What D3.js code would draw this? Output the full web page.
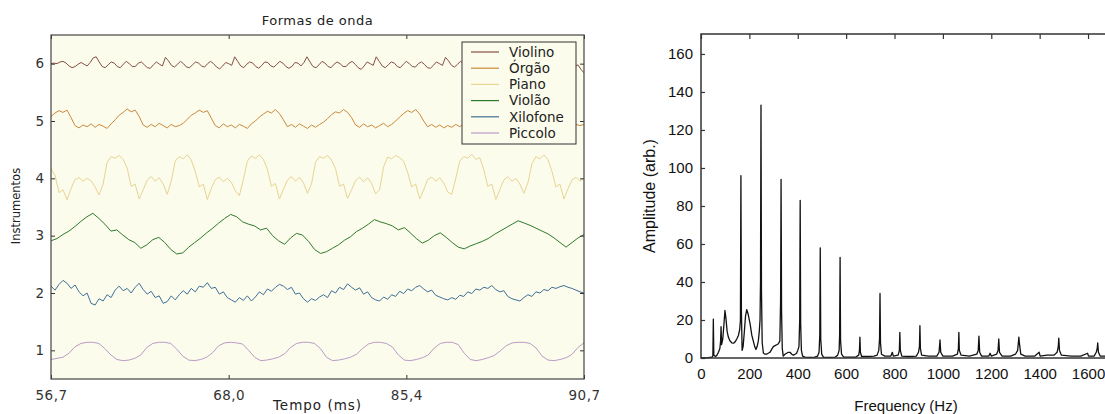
<!DOCTYPE html>
<html><head><meta charset="utf-8">
<script src="https://cdn.jsdelivr.net/npm/d3@7"></script>
<style>body{margin:0;background:#fff}svg{display:block}</style>
</head><body><svg id="c" width="1105" height="414"></svg>
<script>
// ---------- DATA ----------
const instruments = ["Violino","Órgão","Piano","Violão","Xilofone","Piccolo"];
const instrumentColors = ["#855044","#c9893d","#e8d393","#2f7a2c","#3f6f97","#b99bc6"];
const timeTicks = [56.7, 68.0, 85.4, 90.7];
const timeTickLabels = ["56,7","68,0","85,4","90,7"];
const instrumentTicks = [1,2,3,4,5,6];

const violino = [6.00,6.01,6.00,6.03,6.04,6.01,5.96,5.93,5.95,5.99,6.02,5.99,5.96,6.02,6.10,6.12,
6.03,5.95,5.93,5.98,6.03,6.01,5.95,5.93,5.99,6.04,6.00,5.95,5.95,6.01,6.03,5.98,5.93,5.92,5.98,6.03,5.99,5.96,6.11,
6.05,5.97,5.94,5.99,6.04,6.00,5.94,5.93,5.98,6.03,6.01,5.96,5.94,6.00,6.04,6.00,5.94,5.91,5.96,6.02,6.00,5.97,6.12,
6.04,5.96,5.93,5.99,6.03,6.01,5.95,5.92,5.97,6.03,6.02,5.96,5.94,5.99,6.04,6.01,5.95,5.92,5.95,6.02,6.01,5.96,6.02,6.12,
6.03,5.95,5.93,5.98,6.04,6.01,5.95,5.93,5.99,6.03,6.00,5.95,5.95,6.01,6.04,5.99,5.93,5.90,5.96,6.03,6.00,5.97,6.12,
6.04,5.96,5.93,5.98,6.03,6.01,5.95,5.93,5.99,6.04,6.00,5.95,5.94,6.00,6.03,5.99,5.93,5.92,5.97,6.03,6.00,5.97,6.11,
6.05,5.97,5.94,5.99,6.04,6.00,5.94,5.93,5.98,6.03,6.01,5.96,5.94,6.00,6.04,6.00,5.94,5.91,5.96,6.02,6.00,5.97,6.03,6.12,
6.04,5.96,5.93,5.99,6.03,6.01,5.95,5.92,5.97,6.03,6.02,5.96,5.94,5.99,6.04,6.01,5.95,5.92,5.95,5.98,5.90,5.84];

const orgao = [5.08,5.14,5.18,5.15,5.19,5.06,4.92,4.88,4.93,4.90,4.95,4.89,4.94,4.91,4.87,4.95,5.02,5.10,5.15,5.21,
5.16,5.19,5.08,4.93,4.89,4.94,4.90,4.96,4.92,4.88,4.94,4.90,4.92,4.96,5.03,5.10,5.14,5.19,5.15,5.18,
5.05,4.92,4.88,4.95,4.90,4.93,4.88,4.94,4.91,4.87,4.95,5.00,5.07,5.12,5.17,5.14,5.20,5.13,5.02,4.90,
4.94,4.89,4.95,4.91,4.87,4.93,4.89,4.94,4.98,5.04,5.11,5.16,5.14,5.20,5.15,5.06,4.93,4.89,4.95,4.90,
4.93,4.88,4.92,4.96,4.90,4.94,5.00,5.07,5.13,5.18,5.15,5.20,5.12,5.00,4.90,4.94,4.89,4.93,4.88,4.92,
4.89,4.94,4.90,4.95,5.02,5.09,5.15,5.19,5.14,5.18,5.06,4.92,4.88,4.94,4.90,4.93,4.88,4.93,4.90,4.95,
4.91,4.96,5.03,5.10,5.16,5.20,5.15,5.18,5.05,4.93,4.89,4.94,4.92,4.94];

const piano = [4.17,4.05,3.75,3.80,3.63,3.82,3.98,4.01,3.95,4.00,3.96,3.85,3.71,3.90,4.28,4.38,4.35,4.40,4.33,4.18,
3.86,3.90,3.64,3.80,3.97,4.03,3.95,4.01,3.90,3.72,3.95,4.30,4.38,4.34,4.41,4.32,4.12,3.85,3.90,3.63,
3.82,3.98,4.02,3.94,4.00,3.93,3.78,3.70,3.98,4.30,4.39,4.35,4.41,4.33,4.16,3.86,3.91,3.64,3.81,3.97,
4.03,3.95,4.02,3.92,3.74,3.90,4.28,4.38,4.35,4.40,4.32,4.17,3.86,3.90,3.65,3.80,3.96,4.02,3.94,4.01,
3.91,3.73,3.80,4.20,4.37,4.34,4.40,4.36,4.30,4.10,3.85,3.90,3.64,3.80,3.98,4.02,3.95,4.01,3.92,3.76,
3.72,4.00,4.30,4.38,4.35,4.42,4.33,4.36,4.15,3.86,3.90,3.63,3.80,3.97,4.03,3.95,4.00,3.90,3.74,3.92,
4.25,4.38,4.34,4.41,4.33,4.12,3.85,3.90,3.64,3.82,3.97,4.02,3.95,4.00];

const violao = [2.91,2.95,3.02,3.08,3.16,3.25,3.33,3.39,3.30,3.20,3.08,3.10,3.01,2.93,2.88,2.78,2.84,2.93,2.97,2.88,
2.76,2.68,2.70,2.80,2.88,2.96,3.05,3.13,3.22,3.30,3.37,3.33,3.24,3.20,3.17,3.10,3.13,3.00,2.91,2.85,
2.96,3.04,3.01,2.90,2.76,2.69,2.72,2.78,2.84,2.92,2.98,3.07,3.13,3.20,3.28,3.24,3.21,3.17,3.10,3.14,
3.05,2.95,2.87,2.92,3.00,3.05,2.97,2.88,2.80,2.77,2.82,2.86,2.90,2.95,3.02,3.08,3.14,3.20,3.26,3.22,
3.18,3.13,3.08,3.03,2.96,2.88,2.80,2.88,2.96,3.02];

const xilofone = [2.12,2.05,2.15,2.22,2.17,2.08,2.14,2.02,1.95,2.00,1.82,1.79,1.90,1.86,1.97,1.92,2.05,2.12,2.04,2.08,
2.00,2.10,2.17,2.06,1.98,2.03,1.92,1.95,1.82,1.85,1.95,1.88,1.97,2.04,1.98,2.08,2.02,2.12,2.10,2.18,
2.08,2.10,1.98,2.02,1.92,1.88,1.84,1.92,1.87,1.95,1.86,1.93,2.02,1.97,2.07,2.03,2.10,2.15,2.12,2.06,
2.10,1.98,2.00,1.90,1.84,1.90,1.87,1.93,1.97,1.92,2.04,2.00,2.10,2.06,2.16,2.10,2.05,2.09,1.98,2.02,
1.92,1.88,1.86,1.93,1.89,1.97,1.94,2.03,1.99,2.07,2.04,2.10,2.13,2.07,2.02,2.05,1.96,1.93,1.90,1.88,
1.92,1.89,1.96,1.94,2.02,1.99,2.07,2.05,2.10,2.08,2.13,2.06,2.02,2.04,1.94,1.90,1.88,1.86,1.92,1.97,
1.94,2.02,2.00,2.06,2.04,2.10,2.08,2.11,2.13,2.10,2.08,2.05,2.02,2.00];

const piccolo = [0.84,0.86,0.88,0.95,1.06,1.12,1.14,1.14,1.12,1.03,0.92,0.84,0.82,0.83,0.86,0.92,1.05,1.12,1.14,1.14,
1.12,1.02,0.90,0.83,0.82,0.84,0.88,0.96,1.08,1.13,1.14,1.13,1.11,1.00,0.88,0.82,0.83,0.85,0.88,0.94,
1.05,1.12,1.14,1.14,1.12,1.03,0.88,0.82,0.83,0.85,0.88,0.93,1.03,1.11,1.14,1.14,1.12,1.06,0.92,0.83,
0.82,0.84,0.87,0.92,1.04,1.12,1.14,1.14,1.10,0.95,0.84,0.82,0.84,0.87,0.91,0.99,1.08,1.13,1.14,1.14,
1.12,1.04,0.90,0.83,0.82,0.84,0.87,0.93,1.05,1.13];

const waveforms = [violino, orgao, piano, violao, xilofone, piccolo];

const specFreq = [0,30,45,49,51,53,60,66,72,78,81,83,85,90,95,99,103,108,113,120,127,135,141,148,155,160,163,165,167,170,
174,178,184,189,195,203,210,216,222,227,232,237,241,244,246,248,250,253,258,265,271,278,285,292,299,306,313,320,326,329,
331,333,336,340,347,354,361,368,375,382,389,395,400,405,408,410,412,415,420,430,450,470,482,488,491,493,495,499,506,530,
555,565,571,573,575,577,581,590,610,640,652,655,657,659,664,690,715,728,735,738,740,742,746,760,785,791,795,815,820,822,
824,830,860,890,899,903,905,907,912,940,975,984,988,991,1000,1040,1060,1064,1066,1068,1075,1110,1140,1146,1149,1152,1160,1190,1195,1200,
1222,1228,1231,1234,1245,1280,1300,1309,1312,1314,1317,1322,1340,1380,1398,1402,1430,1460,1472,1477,1479,1482,1490,1530,1570,1598,1602,1625,1634,1638,
1640,1643,1650,1700,1760,1800];
const specAmp = [0,0.2,0.5,1,20.5,1.5,0.8,1.5,3,5,9,16.5,7,10,18,25,21,14,11,9,8,7.8,8.5,10,12,15,20,96,25,4,
6,12,22,25.5,23,18,12,9,6,4.5,6,9,14,20,40,133,35,8,2.5,2,2,2.5,3,4.5,6,6.5,7,7.5,9,30,
94,25,5,1,2,2.5,3,3,2,1.5,2,2.5,4,6,20,83,18,4,1,0.5,0.3,0.5,1,3,12,58,10,2,0.5,0.3,
0.5,1.5,4,12,53,9,2,0.5,0.5,0.5,1.5,4,11,3,0.8,0.8,1,1.5,4,10,34,8,2,1,1,3,1,1.5,4,13.5,
4,1,0.8,1,3,6,17,5,1.5,1,1,3,9.5,3,1,1,2,5,13.5,4,1.5,1,2,4,11.5,3,1,1,2.5,1,
2,4,10,3,1,1,2,4,8,11,7,2,1,1,3,1,1.5,1.5,3,6,10.5,4,1.5,1,1,2.5,1,1,3,5,
8,3,1,1,1,1];
const freqTicks = [0,200,400,600,800,1000,1200,1400,1600];
const ampTicks = [0,20,40,60,80,100,120,140,160];

// ---------- LEFT CHART ----------
const svg = d3.select("#c");
const L = {x0:51, x1:584, y0:35, y1:379};
const lf = "DejaVu Sans";
const bg = "#fcfcec";
const xT = d3.scaleLinear().domain(timeTicks)
  .range([L.x0, L.x0+(L.x1-L.x0)/3, L.x0+2*(L.x1-L.x0)/3, L.x1]);
const yI = d3.scaleLinear().domain([0.5, 6.5]).range([L.y1, L.y0]);

svg.append("rect").attr("x",L.x0).attr("y",L.y0).attr("width",L.x1-L.x0).attr("height",L.y1-L.y0)
  .attr("fill",bg);
svg.append("clipPath").attr("id","lc").append("rect")
  .attr("x",L.x0).attr("y",L.y0).attr("width",L.x1-L.x0).attr("height",L.y1-L.y0);

const gW = svg.append("g").attr("clip-path","url(#lc)");
waveforms.forEach((vals, k) => {
  const xi = d3.scaleLinear().domain([0, vals.length-1]).range([L.x0, L.x1]);
  const line = d3.line().x((d,i)=>xi(i)).y(d=>yI(d));
  gW.append("path").datum(vals).attr("d", line).attr("fill","none")
    .attr("stroke", instrumentColors[k]).attr("stroke-width", 1).attr("stroke-linejoin","round");
});

// axes (inward ticks)
const axL = svg.append("g").attr("transform",`translate(${L.x0},0)`)
  .call(d3.axisLeft(yI).tickValues(instrumentTicks).tickSize(-4).tickPadding(7).tickFormat(d3.format("d")));
const axR = svg.append("g").attr("transform",`translate(${L.x1},0)`)
  .call(d3.axisRight(yI).tickValues(instrumentTicks).tickSize(-4).tickFormat(""));
const axT = svg.append("g").attr("transform",`translate(0,${L.y0})`)
  .call(d3.axisTop(xT).tickValues(timeTicks).tickSize(-4).tickFormat(""));
const axB = svg.append("g").attr("transform",`translate(0,${L.y1})`)
  .call(d3.axisBottom(xT).tickValues(timeTicks).tickSize(-4).tickPadding(8)
    .tickFormat((d,i)=>timeTickLabels[i]));
[axL,axR,axT,axB].forEach(a=>{
  a.select(".domain").remove();
  a.selectAll(".tick line").attr("stroke","#333");
  a.selectAll("text").attr("font-family",lf).attr("font-size",13.5).attr("fill","#333");
});
axB.selectAll("text").attr("dy","0.95em").attr("letter-spacing","0.5px");
svg.append("rect").attr("x",L.x0).attr("y",L.y0).attr("width",L.x1-L.x0).attr("height",L.y1-L.y0)
  .attr("fill","none").attr("stroke","#444").attr("stroke-width",1.2);

svg.append("text").attr("x",(L.x0+L.x1)/2).attr("y",25).attr("text-anchor","middle")
  .attr("font-family",lf).attr("font-size",13).attr("fill","#222").attr("letter-spacing","0.5px").text("Formas de onda");
svg.append("text").attr("x",(L.x0+L.x1)/2).attr("y",410).attr("text-anchor","middle")
  .attr("font-family",lf).attr("font-size",13.5).attr("fill","#222").attr("letter-spacing","1px").text("Tempo (ms)");
svg.append("text").attr("transform","translate(20,206) rotate(-90)").attr("text-anchor","middle")
  .attr("font-family",lf).attr("font-size",11.5).attr("fill","#222").text("Instrumentos");

// legend
const lg = svg.append("g");
lg.append("rect").attr("x",462).attr("y",42).attr("width",114).attr("height",102)
  .attr("fill",bg).attr("stroke","#333").attr("stroke-width",1);
instruments.forEach((name,k)=>{
  const yy = 52 + k*16.2;
  lg.append("line").attr("x1",471).attr("x2",499).attr("y1",yy).attr("y2",yy)
    .attr("stroke",instrumentColors[k]).attr("stroke-width",1.2);
  lg.append("text").attr("x",509).attr("y",yy).attr("dy","0.36em")
    .attr("font-family",lf).attr("font-size",13.5).attr("fill","#222").text(name);
});

// ---------- RIGHT CHART ----------
const R = {x0:701, y0:34, y1:358};
const rf = "Liberation Sans";
const xF = d3.scaleLinear().domain([0,1800]).range([R.x0, R.x0 + 1800*0.2419]);
const yA = d3.scaleLinear().domain([0,170.5]).range([R.y1, R.y0]);

svg.append("clipPath").attr("id","rc").append("rect")
  .attr("x",R.x0).attr("y",R.y0).attr("width",1105-R.x0).attr("height",R.y1-R.y0+1);
const specLine = d3.line().x((d,i)=>xF(specFreq[i])).y(d=>yA(d));
svg.append("path").datum(specAmp).attr("clip-path","url(#rc)").attr("d",specLine)
  .attr("fill","none").attr("stroke","#111").attr("stroke-width",1.3).attr("stroke-linejoin","round");

const rL = svg.append("g").attr("transform",`translate(${R.x0},0)`)
  .call(d3.axisLeft(yA).tickValues(ampTicks).tickSize(-4).tickPadding(8).tickFormat(d3.format("d")));
const rT = svg.append("g").attr("transform",`translate(0,${R.y0})`)
  .call(d3.axisTop(xF).tickValues(freqTicks).tickSize(-5).tickFormat(""));
const rB = svg.append("g").attr("transform",`translate(0,${R.y1})`)
  .call(d3.axisBottom(xF).tickValues(freqTicks).tickSize(0).tickPadding(10).tickFormat(d3.format("d")));
[rL,rT,rB].forEach(a=>{
  a.select(".domain").remove();
  a.selectAll(".tick line").attr("stroke","#333").attr("stroke-width",1.2);
  a.selectAll("text").attr("font-family",rf).attr("font-size",15).attr("fill","#111");
});
rB.selectAll("text").attr("dy","0.75em");
svg.append("rect").attr("x",R.x0).attr("y",R.y0).attr("width",1800*0.2419).attr("height",R.y1-R.y0)
  .attr("fill","none").attr("stroke","#333").attr("stroke-width",1.5);

svg.append("text").attr("transform","translate(655,196) rotate(-90)").attr("text-anchor","middle")
  .attr("font-family",rf).attr("font-size",16).attr("fill","#111").text("Amplitude (arb.)");
svg.append("text").attr("x",906).attr("y",411).attr("text-anchor","middle")
  .attr("font-family",rf).attr("font-size",15).attr("fill","#111").text("Frequency (Hz)");
</script></body></html>
